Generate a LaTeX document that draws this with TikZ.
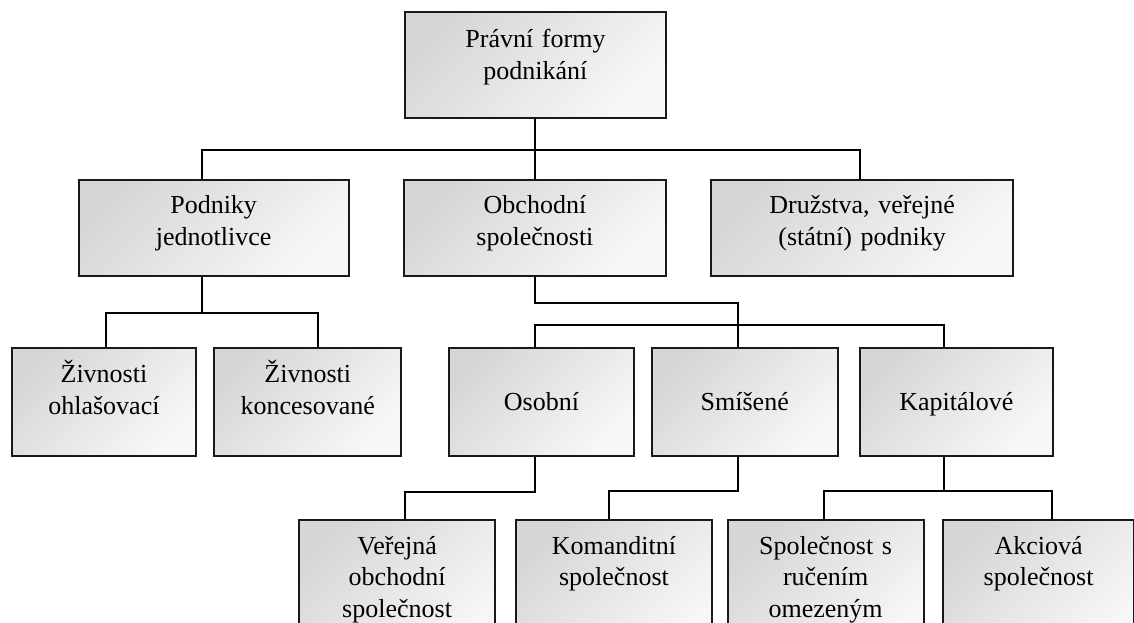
\documentclass[tikz,border=0pt]{standalone}
\usepackage{fontspec}
\setmainfont{Liberation Serif}
\tikzset{
  box/.style={draw=black!90, line width=1.9pt, shade, top color=black!16, bottom color=black!3,
    shading angle=45, inner sep=0pt, anchor=north west, align=center,
    font=\fontsize{26}{31.7}\selectfont},
  wire/.style={draw=black, line width=1.9pt}
}
\begin{document}
\begin{tikzpicture}[x=1pt,y=-1pt]
\useasboundingbox (0,0) rectangle (1134,622);
\clip (0,0) rectangle (1134,622);
% level 1
\node[box, text width=261pt, text height=36pt, text depth=70pt] (top) at (404,11) {Právní formy\\podnikání};
% level 2
\node[box, text width=270pt, text height=33.7pt, text depth=62.3pt] (pod) at (77.7,179.3) {Podniky\\jednotlivce};
\node[box, text width=262pt, text height=33.7pt, text depth=62.3pt] (obch) at (403,179.3) {Obchodní\\společnosti};
\node[box, text width=302.3pt, text height=33.7pt, text depth=62.3pt] (druz) at (710,179.3) {Družstva, veřejné\\(státní) podniky};
% level 3
\node[box, text width=184pt, text height=35pt, text depth=73.3pt] (ziv1) at (11,346.7) {Živnosti\\ohlašovací};
\node[box, text width=187pt, text height=35pt, text depth=73.3pt] (ziv2) at (213.3,346.7) {Živnosti\\koncesované};
\node[box, text width=185.6pt, text height=62.7pt, text depth=45pt] (osob) at (447.7,347.3) {Osobní};
\node[box, text width=186pt, text height=62.7pt, text depth=45pt] (smis) at (650.8,347.3) {Smíšené};
\node[box, text width=192.4pt, text height=62.7pt, text depth=45pt] (kap) at (859.3,347.3) {Kapitálové};
% level 4
\node[box, text width=195.7pt, text height=34pt, text depth=100pt] (ver) at (298.3,519.3) {Veřejná\\obchodní\\společnost};
\node[box, text width=196pt, text height=34pt, text depth=100pt] (kom) at (515,519.3) {Komanditní\\společnost};
\node[box, text width=196pt, text height=34pt, text depth=100pt] (spol) at (726.7,519.3) {Společnost s\\ručením\\omezeným};
\node[box, text width=190.7pt, text height=34pt, text depth=100pt] (akc) at (942.3,519.3) {Akciová\\společnost};
% bus levels
\coordinate (y1) at (0,150);
\coordinate (y2) at (0,313.3);
\coordinate (y3a) at (0,303.3);
\coordinate (y3b) at (0,325);
\coordinate (y4a) at (0,491.7);
\coordinate (y4b) at (0,490.7);
% connectors
\draw[wire] (obch.north) -- (obch.north |- top.south);
\draw[wire] ([xshift=-12pt]pod.north) -- ([xshift=-12pt]pod.north |- y1) -- ([xshift=-2.2pt]druz.north |- y1) -- ([xshift=-2.2pt]druz.north);
\draw[wire] ([xshift=-12pt]pod.south) -- ([xshift=-12pt]pod.south |- y2);
\draw[wire] ([xshift=2pt]ziv1.north) -- ([xshift=2pt]ziv1.north |- y2) -- ([xshift=10pt]ziv2.north |- y2) -- ([xshift=10pt]ziv2.north);
\draw[wire] (obch.south) -- (obch.south |- y3a) -- ([xshift=-6.5pt]smis.north |- y3a) -- ([xshift=-6.5pt]smis.north);
\draw[wire] ([xshift=-6.5pt]osob.north) -- ([xshift=-6.5pt]osob.north |- y3b) -- ([xshift=-12.8pt]kap.north |- y3b) -- ([xshift=-12.8pt]kap.north);
\draw[wire] ([xshift=-6.5pt]osob.south) -- ([xshift=-6.5pt]osob.south |- y4a) -- ([xshift=8pt]ver.north |- y4a) -- ([xshift=8pt]ver.north);
\draw[wire] ([xshift=-6.5pt]smis.south) -- ([xshift=-6.5pt]smis.south |- y4b) -- ([xshift=-4.7pt]kom.north |- y4b) -- ([xshift=-4.7pt]kom.north);
\draw[wire] ([xshift=-12.8pt]kap.south) -- ([xshift=-12.8pt]kap.south |- y4b);
\draw[wire] ([xshift=-2pt]spol.north) -- ([xshift=-2pt]spol.north |- y4b) -- ([xshift=13.3pt]akc.north |- y4b) -- ([xshift=13.3pt]akc.north);
\end{tikzpicture}
\end{document}
